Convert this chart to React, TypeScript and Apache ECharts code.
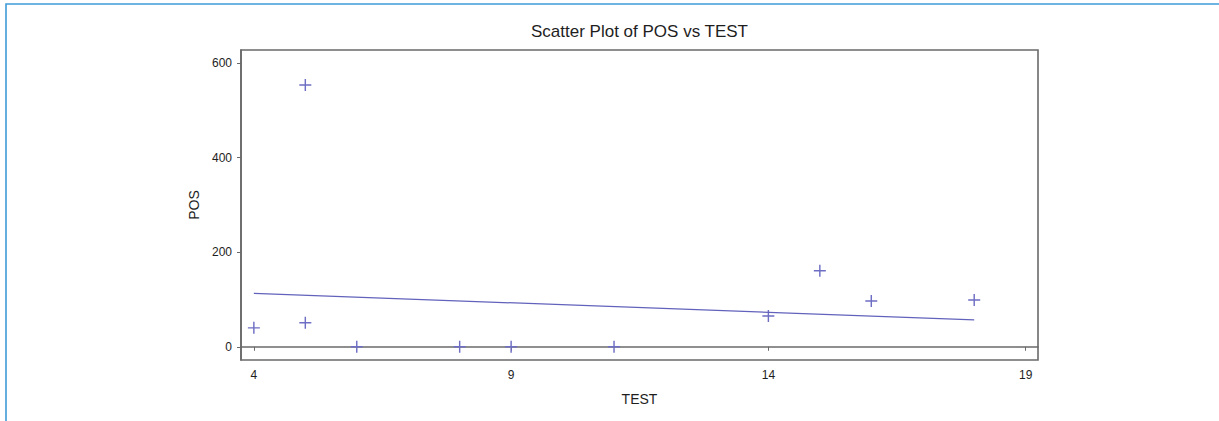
import React, { useEffect, useRef } from "react";
import * as echarts from "echarts";

const testValues = [4, 5, 5, 6, 8, 9, 11, 14, 15, 16, 18];
const posValues = [40, 554, 51, 0, 0, 0, 0, 65, 161, 97, 99];
const fitLine = [
  [4, 113],
  [18, 57],
];
const xTicks = [4, 9, 14, 19];
const yTicks = [0, 200, 400, 600];
const titleText = "Scatter Plot of POS vs TEST";

const PLUS =
  "path://M-0.12,-1H0.12V-0.12H1V0.12H0.12V1H-0.12V0.12H-1V-0.12H-0.12Z";

export default function App() {
  const ref = useRef<HTMLDivElement>(null);
  useEffect(() => {
    if (!ref.current) return;
    const chart = echarts.init(ref.current, null, { renderer: "svg" });
    const font = "'Liberation Sans', Arial, sans-serif";
    const axisColor = "#6a6a6a";
    chart.setOption({
      animation: false,
      backgroundColor: "#ffffff",
      grid: {
        left: 241,
        top: 50,
        right: 181,
        bottom: 61,
        show: true,
        borderColor: axisColor,
        borderWidth: 1.6,
      },
      graphic: [
        {
          type: "polyline",
          shape: { points: [[6, 421], [6, 4], [1219, 4]] },
          style: { stroke: "#3f9bd8", lineWidth: 1.6, fill: "none" },
        },
        {
          type: "text",
          x: 639.5,
          y: 31,
          style: {
            text: titleText,
            font: `17px ${font}`,
            fill: "#1e1e1e",
            textAlign: "center",
            textVerticalAlign: "middle",
          },
        },
      ],
      xAxis: {
        type: "value",
        min: 3.75,
        max: 19.24,
        name: "TEST",
        nameLocation: "middle",
        nameGap: 32,
        nameTextStyle: { fontFamily: font, fontSize: 14, color: "#1e1e1e" },
        splitLine: { show: false },
        axisLine: { show: true, lineStyle: { color: axisColor, width: 1.6 } },
        axisTick: {
          show: true,
          customValues: xTicks,
          length: 4,
          lineStyle: { color: axisColor },
        },
        axisLabel: {
          customValues: xTicks,
          margin: 9,
          fontFamily: font,
          fontSize: 12,
          color: "#1e1e1e",
        },
      },
      yAxis: {
        type: "value",
        min: -28,
        max: 628,
        name: "POS",
        nameLocation: "middle",
        nameGap: 38,
        nameTextStyle: { fontFamily: font, fontSize: 14, color: "#1e1e1e" },
        splitLine: { show: false },
        axisLine: { show: true, lineStyle: { color: axisColor, width: 1.6 } },
        axisTick: {
          show: true,
          customValues: yTicks,
          length: 4,
          lineStyle: { color: axisColor },
        },
        axisLabel: {
          customValues: yTicks,
          margin: 9,
          fontFamily: font,
          fontSize: 12,
          color: "#1e1e1e",
        },
      },
      series: [
        {
          type: "scatter",
          data: testValues.map((t, i) => [t, posValues[i]]),
          symbol: PLUS,
          symbolSize: 12,
          itemStyle: { color: "#6e6ec4", opacity: 1 },
        },
        {
          type: "line",
          data: fitLine,
          symbol: "none",
          lineStyle: { color: "#6262bc", width: 1.3 },
        },
      ],
    });
    return () => chart.dispose();
  }, []);
  return (
    <div
      ref={ref}
      style={{ position: "absolute", left: 0, top: 0, width: 1219, height: 421 }}
    />
  );
}
